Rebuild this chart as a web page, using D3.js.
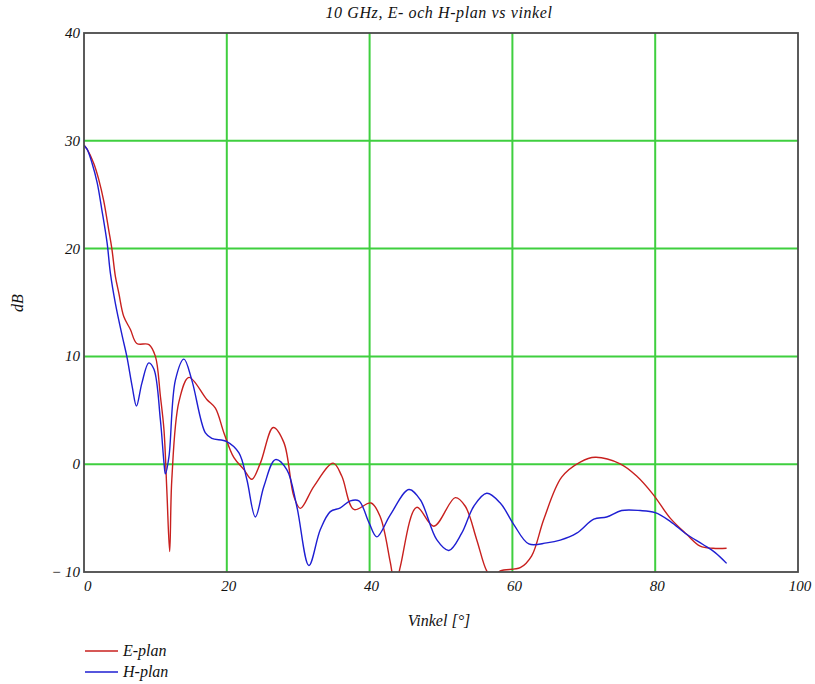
<!DOCTYPE html>
<html>
<head>
<meta charset="utf-8">
<script src="https://cdn.jsdelivr.net/npm/d3@7"></script>
<style>
  body { margin: 0; background: #fff; }
  text { font-family: "Liberation Serif", "DejaVu Serif", serif; font-style: italic; fill: #111; }
</style>
</head>
<body>
<div id="chart"></div>
<script>
// values: angle [deg], level [dB]
const ePlanX = [0, 0.45, 1.37, 2.07, 2.77, 3.47, 3.9, 4.4, 4.87, 5.57, 6.5, 7.4, 9.1, 10.0, 10.7, 11.2, 11.6, 12.0, 12.3, 13.3, 14.7, 17.2, 18.4, 19.6, 21.0, 22.4, 23.5, 24.7, 26.5, 28.0, 29.4, 30.3, 32.2, 34.9, 36.1, 37.8, 40.2, 41.5, 42.9, 43.6, 44.3, 46.6, 49.0, 52.0, 53.4, 55.0, 56.4, 57.3, 58.3, 61.1, 62.7, 64.4, 66.9, 69.5, 71.6, 75.1, 77.4, 79.7, 82.1, 84.4, 86.3, 88.1, 90.0];
const ePlanY = [29.6, 29.2, 27.9, 26.4, 24.4, 21.7, 20, 17.4, 15.9, 13.7, 12.5, 11.2, 11.1, 10.0, 6.3, 3.2, -2.4, -8.1, -1.4, 5.8, 8.05, 6.0, 5.2, 2.9, 0.6, -0.5, -1.4, 0.1, 3.4, 2.0, -3.0, -4.1, -2.05, 0.1, -1.1, -4.2, -3.6, -4.9, -9.1, -11.5, -9.5, -4.0, -5.75, -3.1, -3.9, -7.0, -9.9, -10.6, -9.9, -9.6, -8.5, -5.1, -1.2, 0.2, 0.64, 0.03, -1.1, -2.8, -5.0, -6.5, -7.6, -7.8, -7.8];

const hPlanX = [0, 0.45, 1.14, 1.85, 2.5, 3.24, 3.7, 4.4, 5.35, 6.0, 6.75, 7.35, 8.1, 9.07, 9.8, 10.7, 11.2, 11.4, 11.9, 12.8, 14.0, 15.1, 17.0, 17.9, 20.0, 21.7, 22.8, 24.0, 25.2, 26.8, 28.4, 29.8, 31.5, 33.1, 34.5, 35.9, 37.3, 38.5, 39.9, 41.0, 42.9, 45.5, 47.1, 49.4, 51.1, 52.9, 54.6, 56.4, 58.3, 60.2, 62.3, 64.8, 66.7, 69.0, 71.4, 73.2, 75.3, 77.9, 80.0, 82.1, 84.4, 86.7, 88.4, 90.0];
const hPlanY = [29.6, 29.2, 27.9, 26.1, 23.6, 20.5, 17.7, 14.9, 11.9, 10.0, 7.2, 5.4, 7.5, 9.4, 8.8, 4.1, 0.15, -0.9, 0.7, 7.8, 9.75, 7.8, 2.9, 2.4, 2.1, 1.05, -1.4, -4.9, -2.05, 0.43, -0.5, -3.9, -9.4, -6.06, -4.4, -4.05, -3.4, -3.4, -5.4, -6.74, -4.7, -2.35, -3.3, -7.0, -8.0, -6.4, -3.9, -2.7, -3.6, -5.6, -7.4, -7.3, -7.05, -6.4, -5.1, -4.9, -4.3, -4.3, -4.5, -5.3, -6.5, -7.45, -8.2, -9.2];

const xTicks = [0, 20, 40, 60, 80, 100];
const yTicks = [-10, 0, 10, 20, 30, 40];
const seriesNames = ["E-plan", "H-plan"];
const seriesColors = ["#c8201e", "#1e1ed2"];

const W = 815, H = 684;
const margin = {top: 33, right: 17, bottom: 112, left: 84};

const svg = d3.select("#chart").append("svg")
    .attr("width", W).attr("height", H);

const x = d3.scaleLinear().domain([0, 100]).range([margin.left, W - margin.right]);
const y = d3.scaleLinear().domain([-10, 40]).range([H - margin.bottom, margin.top]);

const defs = svg.append("defs");
defs.append("clipPath").attr("id", "plotclip")
    .append("rect")
    .attr("x", x(0)).attr("y", y(40))
    .attr("width", x(100) - x(0)).attr("height", y(-10) - y(40));

// green grid
svg.append("g").selectAll("line")
    .data(xTicks.filter(d => d > 0 && d < 100))
    .join("line")
    .attr("x1", d => x(d)).attr("x2", d => x(d))
    .attr("y1", y(40)).attr("y2", y(-10))
    .attr("stroke", "#3fcf3f").attr("stroke-width", 2);

svg.append("g").selectAll("line")
    .data(yTicks.filter(d => d > -10 && d < 40))
    .join("line")
    .attr("x1", x(0)).attr("x2", x(100))
    .attr("y1", d => y(d)).attr("y2", d => y(d))
    .attr("stroke", "#3fcf3f").attr("stroke-width", 2);

// curves
const series = [
  ePlanX.map((v, i) => [v, ePlanY[i]]),
  hPlanX.map((v, i) => [v, hPlanY[i]])
];

const line = d3.line()
    .x(d => x(d[0])).y(d => y(d[1]))
    .curve(d3.curveCatmullRom.alpha(0.5));

svg.append("g").attr("clip-path", "url(#plotclip)")
  .selectAll("path")
  .data(series)
  .join("path")
    .attr("d", line)
    .attr("fill", "none")
    .attr("stroke", (d, i) => seriesColors[i])
    .attr("stroke-width", 1.4);

// frame
svg.append("rect")
    .attr("x", x(0)).attr("y", y(40))
    .attr("width", x(100) - x(0)).attr("height", y(-10) - y(40))
    .attr("fill", "none").attr("stroke", "#4a4a4a").attr("stroke-width", 1.8);

// tick labels
svg.append("g").selectAll("text")
    .data(yTicks)
    .join("text")
    .attr("x", x(0) - 4).attr("y", d => y(d) + 5)
    .attr("text-anchor", "end")
    .attr("font-size", 15)
    .text(d => d < 0 ? "\u2212 " + Math.abs(d) : d);

svg.append("g").selectAll("text")
    .data(xTicks)
    .join("text")
    .attr("x", d => d === 0 ? x(0) : x(d) + 2)
    .attr("y", y(-10) + 19)
    .attr("text-anchor", d => d === 0 ? "start" : "middle")
    .attr("font-size", 15)
    .text(d => d);

// titles
svg.append("text")
    .attr("x", 439).attr("y", 18)
    .attr("text-anchor", "middle")
    .attr("font-size", 16)
    .attr("letter-spacing", 0.6)
    .text("10 GHz, E- och H-plan vs vinkel");

svg.append("text")
    .attr("x", 439).attr("y", 626)
    .attr("text-anchor", "middle")
    .attr("font-size", 16)
    .text("Vinkel [°]");

svg.append("text")
    .attr("transform", "translate(23,303) rotate(-90)")
    .attr("text-anchor", "middle")
    .attr("font-size", 16)
    .text("dB");

// legend
const legend = svg.append("g").selectAll("g")
    .data(seriesNames)
    .join("g")
    .attr("transform", (d, i) => `translate(85,${651 + i * 21})`);

legend.append("line")
    .attr("x1", 0).attr("x2", 33)
    .attr("stroke", (d, i) => seriesColors[i])
    .attr("stroke-width", 1.4);

legend.append("text")
    .attr("x", 38).attr("y", 5)
    .attr("font-size", 16)
    .text(d => d);
</script>
</body>
</html>
